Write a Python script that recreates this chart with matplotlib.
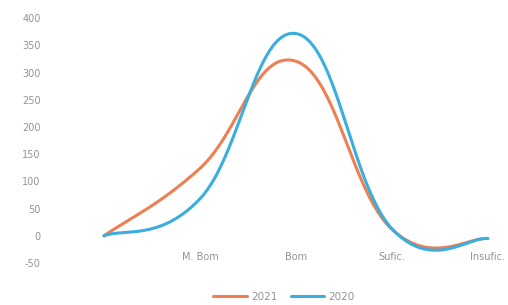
import numpy as np
import matplotlib
matplotlib.use('Agg')
import matplotlib.pyplot as plt

# --- data ---
categories = ['', 'M. Bom', 'Bom', 'Sufic.', 'Insufic.']
v2021 = [0, 124, 321, 12, -5]
v2020 = [0, 68, 372, 13, -5]
yticks = [400, 350, 300, 250, 200, 150, 100, 50, 0, -50]

ORANGE = '#EE7F52'
BLUE = '#3AAEDC'
GREY = '#939393'
TENSION = 0.21   # Excel's smoothing looks a bit looser than plain Catmull-Rom (1/6)


def smooth(ys, n=60):
    # Excel-like smoothed line: cubic Bezier segments through every point
    xs = np.arange(len(ys), dtype=float)
    ys = np.asarray(ys, dtype=float)
    px = np.concatenate([[xs[0]], xs, [xs[-1]]])
    py = np.concatenate([[ys[0]], ys, [ys[-1]]])
    t = np.linspace(0, 1, n)[:, None]
    outx, outy = [], []
    for i in range(1, len(px) - 2):
        p0 = np.array([px[i], py[i]])
        p3 = np.array([px[i + 1], py[i + 1]])
        c1 = p0 + (np.array([px[i + 1], py[i + 1]]) - np.array([px[i - 1], py[i - 1]])) * TENSION
        c2 = p3 - (np.array([px[i + 2], py[i + 2]]) - np.array([px[i], py[i]])) * TENSION
        b = ((1 - t) ** 3) * p0 + 3 * ((1 - t) ** 2) * t * c1 + 3 * (1 - t) * t ** 2 * c2 + t ** 3 * p3
        outx.append(b[:, 0])
        outy.append(b[:, 1])
    return np.concatenate(outx), np.concatenate(outy)


plt.rcParams['font.family'] = ['DejaVu Sans']

fig = plt.figure(figsize=(5.08, 3.05), dpi=100)
ax = fig.add_axes([56 / 508, 42 / 305, 452 / 508, 244.7 / 305])

for vals, col, lab in [(v2021, ORANGE, '2021'), (v2020, BLUE, '2020')]:
    sx, sy = smooth(vals)
    ax.plot(sx, sy, color=col, lw=2.2, label=lab, solid_capstyle='round')

ax.set_xlim(-0.5, 4.21)
ax.set_ylim(-50, 400)
ax.set_yticks(yticks)
ax.set_yticklabels([str(v) for v in yticks])
ax.set_xticks(range(len(categories)))
ax.set_xticklabels(categories)
for s in ax.spines.values():
    s.set_visible(False)
ax.tick_params(axis='both', length=0, colors=GREY, labelsize=7)
ax.tick_params(axis='y', pad=11)
ax.tick_params(axis='x', pad=-8)

fig.legend(loc='center', bbox_to_anchor=(284 / 508, 8 / 305), ncol=2, frameon=False,
           fontsize=7.5, labelcolor=GREY, handlelength=3.2, handletextpad=0.4,
           columnspacing=1.3)

fig.savefig('out.png', dpi=100)
